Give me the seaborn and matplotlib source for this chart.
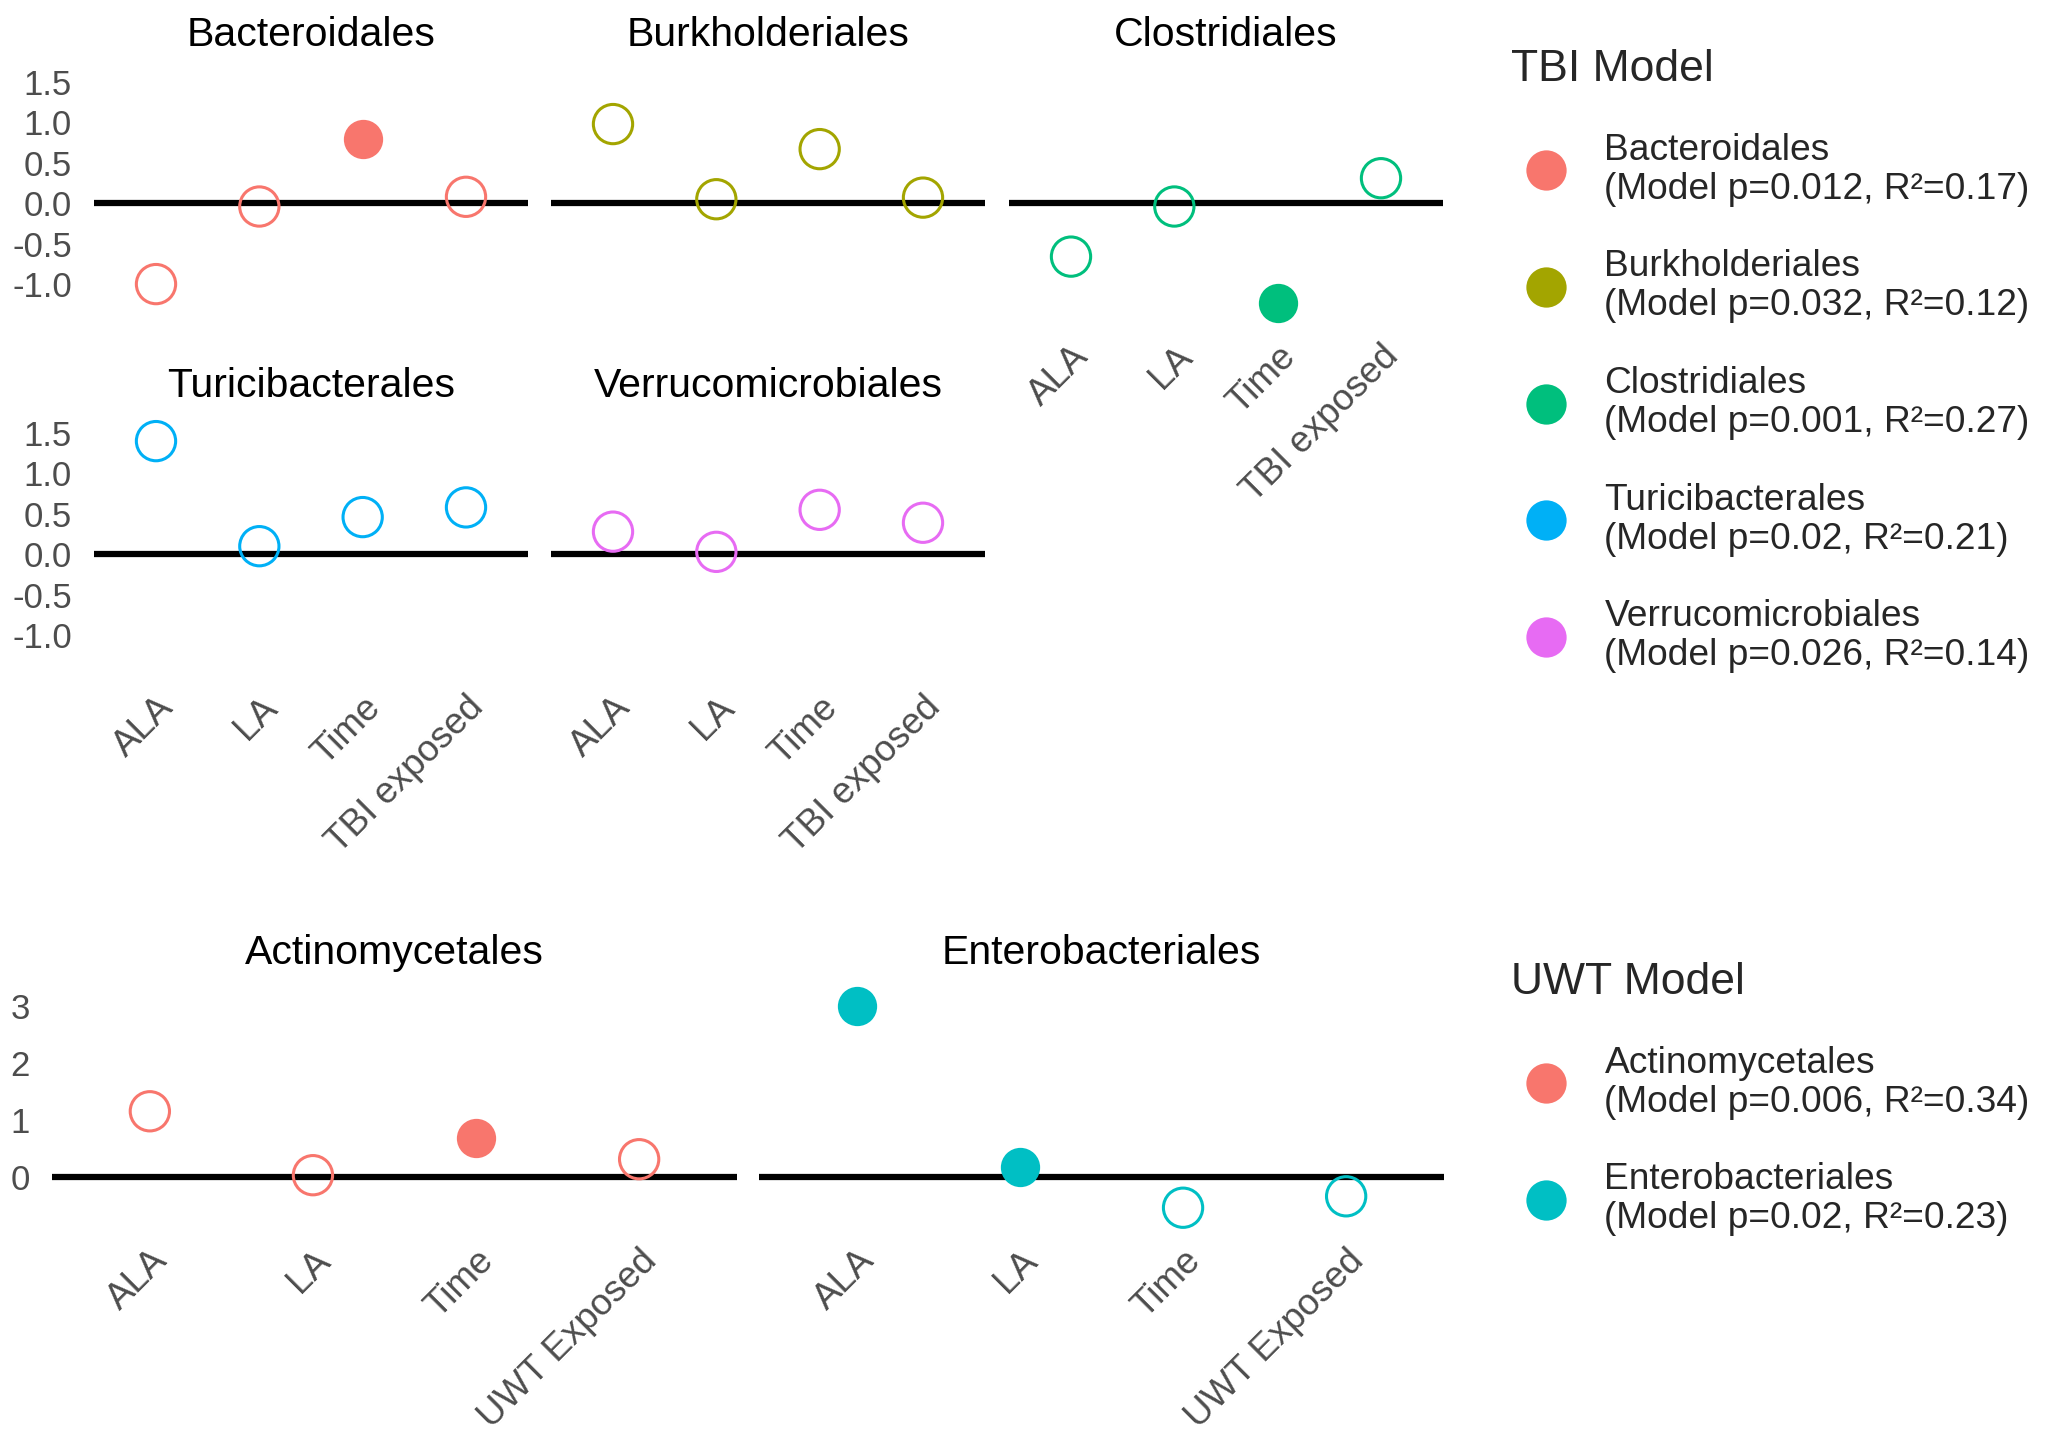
import numpy as np
import pandas as pd
import matplotlib
matplotlib.use("Agg")
import matplotlib.pyplot as plt
import seaborn as sns
from matplotlib.lines import Line2D

# Terms (x axis) for each model
tbi_terms = ["ALA", "LA", "Time", "TBI exposed"]
uwt_terms = ["ALA", "LA", "Time", "UWT Exposed"]

# TBI model: estimates per order
tbi_orders = ["Bacteroidales", "Burkholderiales", "Clostridiales",
              "Turicibacterales", "Verrucomicrobiales"]
bacteroidales_est = [-1.00, -0.04, 0.80, 0.08]
burkholderiales_est = [0.98, 0.05, 0.67, 0.07]
clostridiales_est = [-0.66, -0.04, -1.23, 0.31]
turicibacterales_est = [1.40, 0.10, 0.46, 0.58]
verrucomicrobiales_est = [0.28, 0.03, 0.55, 0.39]

bacteroidales_sig = [False, False, True, False]
burkholderiales_sig = [False, False, False, False]
clostridiales_sig = [False, False, True, False]
turicibacterales_sig = [False, False, False, False]
verrucomicrobiales_sig = [False, False, False, False]

tbi_p = ["0.012", "0.032", "0.001", "0.02", "0.026"]
tbi_r2 = ["0.17", "0.12", "0.27", "0.21", "0.14"]

# UWT model
uwt_orders = ["Actinomycetales", "Enterobacteriales"]
actinomycetales_est = [1.16, 0.04, 0.70, 0.32]
enterobacteriales_est = [3.00, 0.18, -0.53, -0.33]

actinomycetales_sig = [False, False, True, False]
enterobacteriales_sig = [True, True, False, False]

uwt_p = ["0.006", "0.02"]
uwt_r2 = ["0.34", "0.23"]

tbi_colors = ["#F8766D", "#A3A500", "#00BF7D", "#00B0F6", "#E76BF3"]
uwt_colors = ["#F8766D", "#00BFC4"]


def long_table(orders, terms, ests, sigs):
    rows = []
    for order, est, sig in zip(orders, ests, sigs):
        for i, (term, e, s) in enumerate(zip(terms, est, sig)):
            rows.append({"order": order, "term": term, "pos": i,
                         "estimate": e, "significant": s})
    return pd.DataFrame(rows)


tbi_df = long_table(
    tbi_orders, tbi_terms,
    [bacteroidales_est, burkholderiales_est, clostridiales_est,
     turicibacterales_est, verrucomicrobiales_est],
    [bacteroidales_sig, burkholderiales_sig, clostridiales_sig,
     turicibacterales_sig, verrucomicrobiales_sig])
uwt_df = long_table(
    uwt_orders, uwt_terms,
    [actinomycetales_est, enterobacteriales_est],
    [actinomycetales_sig, enterobacteriales_sig])

sns.set_theme(style="white")
plt.rcParams["font.family"] = ["Liberation Sans", "DejaVu Sans"]
plt.rcParams["axes.unicode_minus"] = False

W, H = 2047, 1447
fig = plt.figure(figsize=(W / 100, H / 100), dpi=100)


def px_axes(left, top, width, height):
    return fig.add_axes([left / W, 1 - (top + height) / H, width / W, height / H])


def draw_panel(ax, sub, color, terms, ylim, yticks, show_x, show_y, title, title_pad):
    ax.axhline(0, color="black", lw=4.5, zorder=1)
    filled = sub[sub["significant"]]
    hollow = sub[~sub["significant"]]
    if len(filled):
        sns.scatterplot(data=filled, x="pos", y="estimate", color=color,
                        s=800, linewidth=0, ax=ax, zorder=3, legend=False,
                        clip_on=False)
    if len(hollow):
        sns.scatterplot(data=hollow, x="pos", y="estimate", facecolors="none",
                        edgecolor=color, s=800, linewidth=2.2, ax=ax, zorder=3,
                        legend=False, clip_on=False)
    ax.set_xlim(-0.6, 3.6)
    ax.set_ylim(*ylim)
    ax.set(xlabel="", ylabel="")
    ax.set_xticks(range(len(terms)))
    ax.set_xticklabels(terms, rotation=45, ha="right", rotation_mode="anchor")
    ax.set_yticks(yticks)
    ax.tick_params(axis="both", length=0, labelcolor="#4D4D4D")
    ax.tick_params(axis="y", pad=16, labelsize=25)
    ax.tick_params(axis="x", pad=18, labelsize=26.5)
    if not show_x:
        ax.tick_params(axis="x", labelbottom=False)
    if not show_y:
        ax.tick_params(axis="y", labelleft=False)
    for sp in ax.spines.values():
        sp.set_visible(False)
    ax.set_title(title, fontsize=29.5, color="black", pad=title_pad)


# Top block: TBI model, facet-style 3 columns
tbi_ylim = (-1.37, 1.55)
tbi_yticks = [-1.0, -0.5, 0.0, 0.5, 1.0, 1.5]
tbi_tick_labels = ["%.1f" % v for v in tbi_yticks]
top_lefts = [94, 551, 1009]
top_tops = [78, 429]
for k, order in enumerate(tbi_orders):
    r, c = divmod(k, 3)
    ax = px_axes(top_lefts[c], top_tops[r], 434, 236)
    show_x = (r == 1) or (c == 2)
    draw_panel(ax, tbi_df[tbi_df["order"] == order], tbi_colors[k], tbi_terms,
               tbi_ylim, tbi_yticks, show_x, c == 0, order, 23)
    ax.set_yticklabels(tbi_tick_labels)

# Bottom block: UWT model, 2 columns
uwt_ylim = (-0.71, 3.18)
uwt_yticks = [0, 1, 2, 3]
bottom_lefts = [52, 759]
for k, order in enumerate(uwt_orders):
    ax = px_axes(bottom_lefts[k], 996, 685, 222)
    draw_panel(ax, uwt_df[uwt_df["order"] == order], uwt_colors[k], uwt_terms,
               uwt_ylim, uwt_yticks, True, k == 0, order, 23)


def add_legend(colors, orders, pvals, r2s, title, top):
    handles = [Line2D([], [], marker="o", ls="none", markersize=29,
                      markerfacecolor=col, markeredgewidth=0) for col in colors]
    labels = [f"{o}\n(Model p={p}, R\u00b2={r})" for o, p, r in zip(orders, pvals, r2s)]
    leg = fig.legend(handles, labels, title=title, loc="upper left",
                     bbox_to_anchor=(1511 / W, 1 - top / H), frameon=False,
                     fontsize=26.7, title_fontsize=32, labelspacing=1.15,
                     handletextpad=0.62, handlelength=1.9, borderpad=0,
                     borderaxespad=0)
    leg._legend_box.align = "left"
    for t in leg.get_texts():
        t.set_linespacing(1.15)
    return leg


add_legend(tbi_colors, tbi_orders, tbi_p, tbi_r2, "TBI Model", 49)
add_legend(uwt_colors, uwt_orders, uwt_p, uwt_r2, "UWT Model", 962)

fig.savefig("out.png", dpi=100, facecolor="white")
